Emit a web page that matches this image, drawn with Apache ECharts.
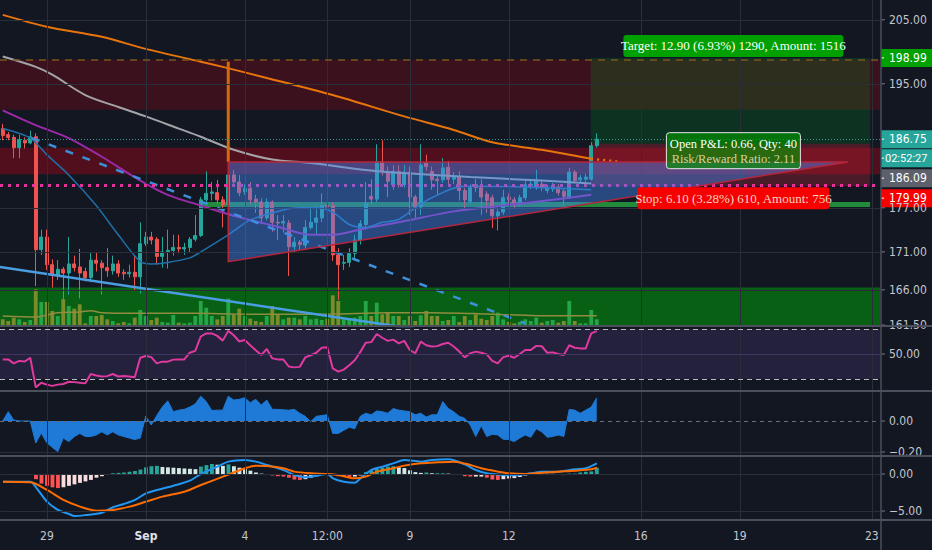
<!DOCTYPE html>
<html><head><meta charset="utf-8">
<script src="https://cdn.jsdelivr.net/npm/echarts@6/dist/echarts.min.js"></script>
<style>html,body{margin:0;padding:0;background:#131722;}#c{width:932px;height:550px;}</style>
</head><body><div id="c"></div>
<script>
// ---------------- DATA ----------------
const xTickIndex = [8, 26, 44, 59, 74, 92, 116, 134, 158];
const xTickLabel = ['29', 'Sep', '4', '12:00', '9', '12', '16', '19', '23'];
const barCount = 160;

// 4h candles: [open, close, low, high]
const candles = [
[188.3,187.3,186.6,189.0],[187.4,187.0,186.6,187.8],[187.0,185.5,184.0,187.4],[185.5,186.7,184.0,187.4],[186.6,186.2,185.4,187.0],
[186.2,187.1,186.0,188.0],[187.1,171.3,166.5,187.6],[171.3,173.0,170.6,174.0],[173.0,169.3,168.6,174.0],[169.3,167.9,166.3,170.0],
[167.9,168.7,167.3,169.9],[168.7,168.2,164.7,169.0],[168.2,169.4,165.4,173.0],[169.4,168.9,168.4,170.5],[169.0,168.2,164.9,171.4],
[168.4,167.6,167.1,168.9],[167.6,169.9,167.0,171.0],[169.9,169.5,168.4,171.0],[169.5,168.9,165.4,169.9],[168.9,168.5,167.7,171.5],
[168.5,169.4,168.0,170.5],[169.4,168.2,167.7,169.9],[168.3,168.1,167.3,168.7],[168.1,168.3,167.6,169.3],[168.3,167.7,166.0,170.6],
[167.7,172.1,165.5,175.0],[172.1,173.0,171.8,173.7],[173.0,172.6,172.0,173.7],[172.7,170.4,169.3,173.0],[170.4,171.0,168.9,173.0],
[171.0,171.2,168.8,174.0],[171.2,171.6,170.5,173.3],[171.6,171.4,170.8,173.3],[171.4,171.6,170.6,172.2],[171.6,172.7,171.0,173.0],
[172.7,173.2,172.4,176.0],[173.2,178.1,173.0,178.5],[178.1,179.0,177.5,182.1],[179.0,179.2,178.0,180.6],[179.1,178.1,177.5,180.9],
[178.1,177.4,174.3,178.6],[177.4,181.6,177.0,183.0],[181.6,180.6,180.2,182.3],[180.6,179.1,178.6,181.6],[179.2,179.7,178.8,180.3],
[179.7,178.1,177.5,180.6],[178.2,177.8,176.3,178.8],[177.8,175.6,174.8,178.3],[175.6,177.8,175.3,178.3],[177.8,175.0,173.7,178.0],
[175.0,174.9,172.6,176.0],[174.9,175.1,173.6,176.0],[174.9,171.7,167.8,175.3],[171.7,172.3,171.0,173.0],[172.3,172.0,171.3,172.6],
[171.9,174.3,171.3,175.3],[174.3,175.0,174.0,177.0],[175.0,175.6,173.3,177.3],[175.6,177.3,175.0,179.0],[177.3,177.1,176.3,178.0],
[177.3,170.6,169.8,177.8],[170.6,169.3,164.7,171.5],[169.5,169.6,168.6,170.6],[169.6,170.8,169.0,171.5],[170.8,172.6,169.8,173.3],
[172.6,174.8,172.0,175.3],[174.7,177.6,174.0,180.6],[178.6,178.2,177.5,181.0],[178.2,183.5,177.8,186.0],[183.5,182.1,181.5,186.6],
[182.1,180.7,178.5,182.8],[180.2,182.1,179.5,183.0],[182.1,180.2,179.8,183.0],[180.2,182.0,179.8,183.0],[182.0,178.5,176.0,182.8],
[178.5,177.1,175.6,178.8],[177.1,183.0,176.0,186.0],[183.3,182.8,182.2,184.5],[182.1,180.9,179.5,182.8],[181.0,180.8,178.8,181.5],
[180.9,182.6,180.5,184.0],[182.7,181.0,180.0,183.6],[181.0,181.3,180.3,182.0],[181.3,179.4,178.0,182.1],[179.4,178.1,176.7,179.8],
[177.9,179.8,177.5,180.3],[180.2,179.8,179.2,181.0],[179.8,178.5,176.0,181.0],[178.9,178.0,176.3,179.3],[178.4,175.9,174.2,178.8],
[175.9,176.4,173.9,177.0],[176.4,178.4,176.0,179.5],[178.5,178.1,177.5,179.0],[178.1,177.5,177.0,178.5],[177.5,178.4,177.2,178.8],
[178.4,180.2,178.0,181.0],[180.1,180.3,179.6,180.8],[179.8,180.7,179.5,182.3],[180.3,179.8,179.3,180.8],[179.4,179.8,179.0,180.2],
[179.6,180.1,179.2,180.5],[179.9,179.1,178.7,180.3],[179.3,178.6,177.3,179.6],[178.5,182.0,178.2,182.6],[182.0,180.8,180.4,182.3],
[180.9,181.2,180.5,181.6],[181.0,181.3,180.6,181.8],[181.0,185.8,180.8,186.3],[185.8,186.75,185.5,187.6]
];

const volumes = [
20,15,25,20,12,18,110,72,72,45,
30,80,60,52,65,8,30,30,33,20,
15,8,12,8,25,48,30,18,25,12,
10,33,10,8,10,30,75,55,30,20,
30,82,35,52,30,22,15,12,30,60,
35,20,25,25,20,30,20,22,18,22,
92,75,20,22,25,30,75,30,70,35,
42,30,30,18,30,15,32,45,30,30,
15,18,30,12,30,18,35,22,18,30,
40,20,12,8,12,20,15,25,10,15,
18,10,15,75,15,8,8,48,20
];
const volumeMA = [[0,30],[6,27],[10,40],[14,42],[16,46],[18,40],[24,38],[35,38],[42,36],[50,35],[60,36],[70,40],[78,40],[88,36],[97,31],[108,31]];

// moving averages, sampled [barIndex, price]
const maOrange = [[0,205.8],[8,203.9],[18,202.3],[26,200.4],[36,198.4],[40,197.6],[48,195.9],[60,193.3],[73,190.1],[82,188.1],[89,186.3],[98,185.2],[107,183.9]];
const maOrangeProj = [[107,183.9],[112,183.5]];
const maGray = [[0,199.2],[6,197.6],[9,196.4],[15,193.3],[21,191.5],[26,190.1],[32,188.3],[36,187.1],[42,185.2],[49,183.8],[56,183.3],[66,182.3],[72,181.9],[85,181.3],[98,180.8],[107,180.4]];
const maPurple = [[0,191.0],[6,188.8],[12,186.9],[18,184.2],[25,180.8],[30,178.8],[36,177.3],[42,175.9],[50,174.4],[56,173.3],[60,173.3],[66,174.2],[72,175.0],[82,176.5],[91,177.3],[100,178.1],[107,178.8]];
const maBlue = [[0,188.3],[5,186.9],[8,184.5],[12,181.6],[17,177.3],[21,173.3],[25,169.7],[27,169.4],[30,169.6],[34,170.2],[36,171.0],[41,173.3],[45,175.3],[51,176.7],[54,177.0],[57,177.0],[60,176.4],[63,174.7],[66,174.3],[69,175.0],[72,175.4],[77,178.0],[84,180.0],[95,179.9],[107,179.5]];

// drawings
const trendSolid = [[-0.5,169.0],[75,161.0]];
const trendDashed = [[5.3,186.9],[95,161.7]];
const spikeLine = [[41,198.4],[41,183.45]];
const triangle = [[41,183.45],[41,169.7],[153.7,183.45]];
const bandRed1 = [191.1, 198.7];
const bandRed2 = [181.7, 185.5];
const bandGreen = [161.0, 166.3];
const bandGreenThin = [177.1, 177.8];
const bandGreenThinX = [36, 157.7];
const levelPink = 180.2;
const levelTopDashed = 198.7;
const lastPrice = 186.75;
const countdown = '02:52:27';
const position = { target: 198.99, entry: 186.09, stop: 179.99 };
const positionX = [106.9, 157.7];
const positionText = {
  target: 'Target: 12.90 (6.93%) 1290, Amount: 1516',
  pnl: 'Open P&L: 0.66, Qty: 40',
  rr: 'Risk/Reward Ratio: 2.11',
  stop: 'Stop: 6.10 (3.28%) 610, Amount: 756'
};
const priceTicks = [205, 195, 177, 171, 166, 161.5];

// RSI
const rsi = [
45.7,45.7,42.5,44.5,44,47,23.3,27,25.5,24.5,
25.5,26,27.8,27.5,27,26.5,34,32.8,32,32.3,
34,32,32.4,32,31.4,47,48.4,47.5,42.5,43.9,
43.9,45.5,45.7,45.7,51,52.5,64,66.5,66.5,64.5,
60.7,68.5,65,60,61.2,57,53,49.2,54,46.5,
45.7,45.7,40,39.3,39.7,47.3,49,51,55,55.4,
38.5,35.9,37.5,41,45,51.5,59,59.5,66,63,
60.5,61.5,58.5,60.5,53.2,50.6,59.9,57,56,56.3,
58,59,56,52,47.3,50.5,51.9,51,49.7,44.5,
42.5,47.5,48.6,47,50,53.2,53.2,56.5,56.2,51,
51.3,50,49.2,57,55,54.5,54.5,66.5,68.3
];
const rsiBand = [30, 70];
const rsiTicks = [50];

// momentum oscillator
const mom = [
0,0.06,0.006,0,0,0,-0.142,-0.077,-0.14,-0.17,
-0.198,-0.11,-0.133,-0.101,-0.08,-0.1,-0.1,-0.09,-0.07,-0.09,
-0.07,-0.09,-0.1,-0.11,-0.12,-0.11,0.032,-0.026,0.035,0.09,
0.13,0.06,0.07,0.075,0.09,0.11,0.16,0.125,0.067,0.07,
0.07,0.16,0.135,0.14,0.15,0.118,0.14,0.103,0.135,0.075,
0.075,0.072,0.07,0.075,0.05,0.03,-0.004,0.03,0.035,0.04,
-0.08,-0.08,-0.06,-0.04,-0.05,0.03,0.05,0.04,0.065,0.06,
0.05,0.08,0.07,0.065,0.06,0.04,0.05,0.025,0.04,0.04,
0.125,0.08,0.06,0.03,0.017,-0.026,-0.1,-0.03,-0.1,-0.086,
-0.09,-0.118,-0.12,-0.133,-0.11,-0.09,-0.105,-0.05,-0.07,-0.105,
-0.1,-0.09,-0.1,0.075,0.07,0.05,0.07,0.09,0.15
];
const momTicks = [0, -0.2];

// MACD
const macdHist = [
-0.05,-0.1,-0.1,-0.05,-0.1,-0.05,-0.7,-1.3,-1.6,-1.8,
-1.9,-1.8,-1.6,-1.4,-1.2,-1.0,-0.8,-0.5,-0.3,-0.1,
0.1,0.15,0.2,0.3,0.4,0.6,0.9,1.05,1.1,0.95,
0.9,0.85,0.8,0.75,0.7,0.65,1.0,1.2,1.35,1.25,
1.1,1.3,1.05,0.85,0.65,0.45,0.2,0.05,-0.05,-0.2,
-0.3,-0.35,-0.5,-0.75,-0.8,-0.7,-0.5,-0.3,-0.1,0.05,
-0.1,-0.3,-0.4,-0.45,-0.35,-0.2,0.25,0.5,0.75,0.85,
1.0,1.05,0.9,0.8,0.5,0.25,0.15,0.2,0.1,0.1,
0.1,0.05,-0.05,-0.1,-0.3,-0.35,-0.35,-0.35,-0.5,-0.75,
-0.8,-0.7,-0.6,-0.55,-0.4,-0.2,-0.05,0.05,0.05,0.03,
0.05,-0.05,-0.15,0.05,0.05,0.2,0.3,0.35,0.85
];
const macdLine = [[0,-1.04],[5,-1.04],[6,-1.8],[8,-3.74],[10,-4.86],[12,-5.4],[13,-5.68],[15,-5.55],[18,-5.23],[20,-4.5],[22,-4.05],[24,-3.51],[26,-2.61],[28,-2.16],[31,-1.58],[34,-0.9],[36,0],[39,0.99],[41,1.67],[44,1.89],[46,1.67],[48,1.22],[51,0.54],[53,-0.14],[55,-0.45],[57,-0.23],[59,0],[60,-0.59],[62,-1.04],[64,-1.17],[65,-0.59],[67,0.54],[69,0.99],[71,1.44],[73,1.89],[76,1.67],[78,1.89],[81,1.98],[84,1.3],[86,0.54],[88,0.09],[91,-0.14],[93,-0.18],[96,0.09],[98,0.32],[101,0.32],[104,0.63],[106,0.77],[108,1.44]];
const signalLine = [[0,-1.04],[5,-1.13],[8,-2.16],[11,-3.51],[14,-4.41],[17,-4.95],[20,-4.86],[23,-4.41],[26,-3.74],[29,-3.06],[33,-2.39],[36,-1.49],[40,-0.36],[44,0.77],[46,1.13],[48,1.08],[51,0.77],[53,0.32],[56,0.09],[59,0],[61,-0.14],[64,-0.59],[66,-0.36],[68,0.32],[71,0.77],[73,1.13],[76,1.44],[79,1.58],[82,1.67],[85,1.22],[87,0.77],[90,0.32],[92,0.09],[95,0],[98,0.18],[101,0.32],[104,0.45],[107,0.63],[108,0.86]];
const macdTicks = [0, -5];

// ---------------- STYLE / LAYOUT ----------------
const BG = '#131722', GRIDC = '#2a2e39', SEP = '#4b4f5b', TXT = '#c3c6ce';
const UP = '#26a69a', DOWN = '#ef5350';
const AXFONT = '"DejaVu Sans Condensed", "Liberation Sans Narrow", Roboto, sans-serif';
const SERIF = '"Liberation Serif", "DejaVu Serif", serif';
const L = -2, W = 882, RX = 881;
const panels = [{top:0,height:326},{top:326,height:65},{top:391,height:65},{top:456,height:64}];

const cats = Array.from({length: barCount}, (_, i) => String(i));
const vLines = () => xTickIndex.map(i => ({xAxis: i}));
const hLines = vals => vals.map(v => ({yAxis: v}));
const gridLS = {color: GRIDC, width: 1, type: 'solid'};

function mk(name, data, xi, yi, color, width, extra) {
  return Object.assign({name, type:'line', xAxisIndex:xi, yAxisIndex:yi, data, showSymbol:false, symbol:'none', silent:true,
    smooth:0.3, z:4, lineStyle:{color, width}}, extra || {});
}

const chart = echarts.init(document.getElementById('c'), null, {renderer:'svg', width:932, height:550});

const xAxis = [];
panels.forEach((p, gi) => {
  if (gi < 3) xAxis.push({type:'category', gridIndex:gi, data:cats, show:false});
  else xAxis.push({type:'category', gridIndex:gi, data:cats, axisLine:{show:false}, axisTick:{show:false}, splitLine:{show:false},
    axisLabel:{interval:0, color:TXT, fontSize:12, fontFamily:AXFONT, margin:10,
      formatter:(v, idx) => { const k = xTickIndex.indexOf(Number(v)); if (k < 0) return ''; return xTickLabel[k] === 'Sep' ? '{b|Sep}' : xTickLabel[k]; },
      rich:{b:{fontWeight:'bold', color:'#e0e3eb', fontSize:12, fontFamily:AXFONT}}}});
  xAxis.push({type:'value', gridIndex:gi, min:-0.5, max:barCount-0.5, show:false});
});

const yAxis = [
  {type:'log', gridIndex:0, min:161.38, max:208.2, show:false, splitLine:{show:false}},
  {type:'value', gridIndex:0, min:0, max:978, show:false},
  {type:'value', gridIndex:1, min:20.4, max:72.4, show:false},
  {type:'value', gridIndex:2, min:-0.2258, max:0.1935, show:false},
  {type:'value', gridIndex:3, min:-6.216, max:2.432, show:false}
];

const histColors = macdHist.map((v, i) => {
  const p = i > 0 ? macdHist[i-1] : v;
  if (v >= 0) return v >= p ? '#26a69a' : '#d3e8e4';
  return v < p ? '#ff5252' : '#f8dcde';
});

const series = [
  {name:'bands', type:'line', xAxisIndex:1, yAxisIndex:0, data:[], z:1, silent:true,
    markArea:{silent:true, data:[
      [{xAxis:-0.5, yAxis:bandRed1[0], itemStyle:{color:'rgba(200,0,12,0.22)'}}, {xAxis:barCount-0.5, yAxis:bandRed1[1]}],
      [{xAxis:-0.5, yAxis:bandRed2[0], itemStyle:{color:'rgba(215,0,22,0.32)'}}, {xAxis:barCount-0.5, yAxis:bandRed2[1]}],
      [{xAxis:-0.5, yAxis:bandGreen[0], itemStyle:{color:'rgba(0,150,10,0.58)'}}, {xAxis:barCount-0.5, yAxis:bandGreen[1]}]
    ]},
    markLine:{silent:true, symbol:'none', label:{show:false}, lineStyle:gridLS, data:[...vLines(), ...hLines(priceTicks.slice(0,5))]}},
  {name:'volume', type:'bar', xAxisIndex:0, yAxisIndex:1, z:2, silent:true, barWidth:'70%',
    data: volumes.map((v, i) => ({value:v, itemStyle:{color: candles[i][1] >= candles[i][0] ? '#25a448' : '#7c8b2c'}}))},
  mk('volMA', volumeMA, 1, 1, '#8f8c40', 1.5, {z:2}),
  {name:'levels', type:'line', xAxisIndex:1, yAxisIndex:0, data:[], z:2, silent:true,
    markLine:{silent:true, symbol:'none', label:{show:false}, data:[
      {yAxis:levelPink, lineStyle:{color:'#e8309a', width:3, type:[3,5]}},
      {yAxis:lastPrice, lineStyle:{color:'#3a9a94', width:1, type:[1,2]}},
      {yAxis:levelTopDashed, lineStyle:{color:'#7a5520', width:1.5, type:[7,6]}}
    ]}},
  {name:'price', type:'candlestick', xAxisIndex:0, yAxisIndex:0, z:3, silent:true, barWidth:'70%', data:candles,
    itemStyle:{color:UP, color0:DOWN, borderColor:UP, borderColor0:DOWN, borderWidth:1}},
  mk('maOrange', maOrange, 1, 0, '#e8740c', 2),
  mk('maOrangeProj', maOrangeProj, 1, 0, '#e8740c', 2.5, {lineStyle:{color:'#e8740c', width:2.5, type:[2,4]}}),
  mk('maGray', maGray, 1, 0, '#a3a3a8', 2),
  mk('maPurple', maPurple, 1, 0, '#9c2aa8', 2),
  mk('maBlue', maBlue, 1, 0, '#1f6fa8', 1.5),
  mk('trendSolid', trendSolid, 1, 0, '#4a9de0', 2.5, {smooth:false}),
  mk('trendDashed', trendDashed, 1, 0, '#3d8fd9', 2.5, {smooth:false, lineStyle:{color:'#3d8fd9', width:2.5, type:[8,10]}}),
  mk('spike', spikeLine, 1, 0, '#d46a0c', 3, {smooth:false}),
  {name:'triangle', type:'custom', xAxisIndex:1, yAxisIndex:0, z:5, silent:true, data:[0],
    renderItem:(p, api) => ({type:'polygon', shape:{points: triangle.map(q => api.coord(q))},
      style:{fill:'rgba(66,135,245,0.45)', stroke:'#b3263c', lineWidth:1.5}})},
  {name:'position', type:'line', xAxisIndex:1, yAxisIndex:0, data:[], z:6, silent:true,
    markArea:{silent:true, data:[
      [{xAxis:positionX[0], yAxis:position.entry, itemStyle:{color:'rgba(0,150,30,0.22)'}}, {xAxis:positionX[1], yAxis:position.target}],
      [{xAxis:positionX[0], yAxis:position.stop, itemStyle:{color:'rgba(240,40,60,0.25)'}}, {xAxis:positionX[1], yAxis:position.entry}],
      [{xAxis:bandGreenThinX[0], yAxis:bandGreenThin[0], itemStyle:{color:'rgba(40,190,70,0.7)'}}, {xAxis:bandGreenThinX[1], yAxis:bandGreenThin[1]}]
    ]}},

  {name:'rsiBg', type:'line', xAxisIndex:3, yAxisIndex:2, data:[], z:1, silent:true,
    markArea:{silent:true, data:[[{xAxis:-0.5, yAxis:rsiBand[0], itemStyle:{color:'rgba(126,87,194,0.16)'}}, {xAxis:barCount-0.5, yAxis:rsiBand[1]}]]},
    markLine:{silent:true, symbol:'none', label:{show:false}, lineStyle:gridLS, data:[
      ...vLines(),
      {yAxis:rsiTicks[0], lineStyle:{color:'#3e3560', width:1, type:'solid'}},
      {yAxis:rsiBand[1], lineStyle:{color:'#b8bac2', width:1, type:[5,4]}},
      {yAxis:rsiBand[0], lineStyle:{color:'#b8bac2', width:1, type:[5,4]}}
    ]}},
  {name:'rsi', type:'line', xAxisIndex:2, yAxisIndex:2, data:rsi, showSymbol:false, symbol:'none', silent:true, z:3,
    lineStyle:{color:'#e0399f', width:2}},

  {name:'momBg', type:'line', xAxisIndex:5, yAxisIndex:3, data:[], z:1, silent:true,
    markLine:{silent:true, symbol:'none', label:{show:false}, lineStyle:gridLS, data:[
      ...vLines(), {yAxis:momTicks[1]},
      {yAxis:momTicks[0], lineStyle:{color:'#6a6d78', width:1, type:[4,4]}}
    ]}},
  {name:'mom', type:'line', xAxisIndex:4, yAxisIndex:3, data:mom, showSymbol:false, symbol:'none', silent:true, z:3,
    lineStyle:{color:'#1e7ad6', width:1}, areaStyle:{color:'#1e7ad6', opacity:1, origin:0}},

  {name:'macdBg', type:'line', xAxisIndex:7, yAxisIndex:4, data:[], z:1, silent:true,
    markLine:{silent:true, symbol:'none', label:{show:false}, lineStyle:gridLS, data:[...vLines(), ...hLines(macdTicks)]}},
  {name:'hist', type:'bar', xAxisIndex:6, yAxisIndex:4, z:2, silent:true, barWidth:'70%',
    data: macdHist.map((v, i) => ({value:v, itemStyle:{color:histColors[i]}}))},
  mk('macd', macdLine, 7, 4, '#2196f3', 2),
  mk('signal', signalLine, 7, 4, '#ff6d00', 2)
];

const option = {
  backgroundColor: BG,
  animation: false,
  grid: panels.map(p => ({left:L, width:W, top:p.top, height:p.height, show:false})),
  xAxis, yAxis, series
};
chart.setOption(option);

// ---------------- axis labels & annotations ----------------
const yPix = (axis, v) => chart.convertToPixel({yAxisIndex: axis}, v);
const xPix = v => chart.convertToPixel({xAxisIndex: 1}, v);
const g = [];
const Z = 100;
function txt(str, x, y, color, font, align) {
  g.push({type:'text', z:Z+3, silent:true, x, y, style:{text:str, fill:color, font, align:align||'left', textAlign:align||'left',
    verticalAlign:'middle', textVerticalAlign:'middle'}});
}
function axisText(str, y) {
  g.push({type:'line', z:Z, silent:true, shape:{x1:RX, y1:y, x2:RX+4, y2:y}, style:{stroke:'#787b86', lineWidth:1}});
  txt(str, 889, y, TXT, '12px ' + AXFONT);
}
function axisBox(str, y, bg, font) {
  g.push({type:'rect', z:Z+2, silent:true, shape:{x:RX, y:y-9, width:932-RX, height:18}, style:{fill:bg}});
  g.push({type:'line', z:Z+3, silent:true, shape:{x1:RX, y1:y, x2:RX+3, y2:y}, style:{stroke:'#ffffff', lineWidth:1}});
  txt(str, font ? 885 : 889, y, '#ffffff', font || ('12px ' + AXFONT));
}
const fmt = v => (v < 0 ? '\u2212' : '') + Math.abs(v).toFixed(2);

priceTicks.forEach(v => axisText(fmt(v), yPix(0, v)));
axisText(fmt(rsiTicks[0]), yPix(2, rsiTicks[0]));
momTicks.forEach(v => axisText(fmt(v), yPix(3, v)));
macdTicks.forEach(v => axisText(fmt(v), yPix(4, v)));
g.push({type:'rect', z:Z+1, silent:true, shape:{x:RX+1, y:panels[1].top+1, width:60, height:16}, style:{fill:BG}});
g.push({type:'rect', z:Z+1, silent:true, shape:{x:RX+1, y:panels[3].top+1, width:60, height:10}, style:{fill:BG}});

const lastY = yPix(0, lastPrice);
const cdY = lastY + 19;
const entryY = Math.max(yPix(0, position.entry), cdY + 20);
const stopY = Math.max(yPix(0, position.stop), entryY + 20);
axisBox(position.target.toFixed(2), yPix(0, position.target), '#00a000');
axisBox(lastPrice.toFixed(2), lastY, '#26a69a');
axisBox(countdown, cdY, '#26a69a', '11px Roboto, ' + AXFONT);
axisBox(position.entry.toFixed(2), entryY, '#5d606b');
axisBox(position.stop.toFixed(2), stopY, '#f70000');

const cx = (xPix(positionX[0]) + xPix(positionX[1])) / 2 + 3;
const tY = yPix(0, position.target), eY = yPix(0, position.entry), sY = yPix(0, position.stop);
g.push({type:'rect', z:Z+2, silent:true, shape:{x:cx-110, y:tY-23, width:220, height:22, r:3}, style:{fill:'#00a000'}});
txt(positionText.target, cx, tY-12, '#ffffff', '13px ' + SERIF, 'center');
g.push({type:'rect', z:Z+2, silent:true, shape:{x:cx-67, y:eY-11, width:134, height:36, r:3}, style:{fill:'rgba(0,150,0,0.65)', stroke:'#e6e6e6', lineWidth:1}});
txt(positionText.pnl, cx, eY+0.5, '#ffffff', '12.5px ' + SERIF, 'center');
txt(positionText.rr, cx, eY+15, '#d8d0a8', '12.5px ' + SERIF, 'center');
g.push({type:'rect', z:Z+2, silent:true, shape:{x:cx-96, y:sY+1, width:192, height:22, r:3}, style:{fill:'#f70000'}});
txt(positionText.stop, cx, sY+12, '#f5d5c0', '13px ' + SERIF, 'center');

panels.slice(1).forEach(p => g.push({type:'line', z:Z+4, silent:true, shape:{x1:0, y1:p.top, x2:932, y2:p.top}, style:{stroke:SEP, lineWidth:2}}));
const bottomY = panels[3].top + panels[3].height;
g.push({type:'line', z:Z+4, silent:true, shape:{x1:0, y1:bottomY, x2:932, y2:bottomY}, style:{stroke:SEP, lineWidth:2}});
g.push({type:'line', z:Z+4, silent:true, shape:{x1:RX, y1:0, x2:RX, y2:550}, style:{stroke:SEP, lineWidth:1.5}});

chart.setOption({graphic:{elements:g}});
</script>
</body></html>
